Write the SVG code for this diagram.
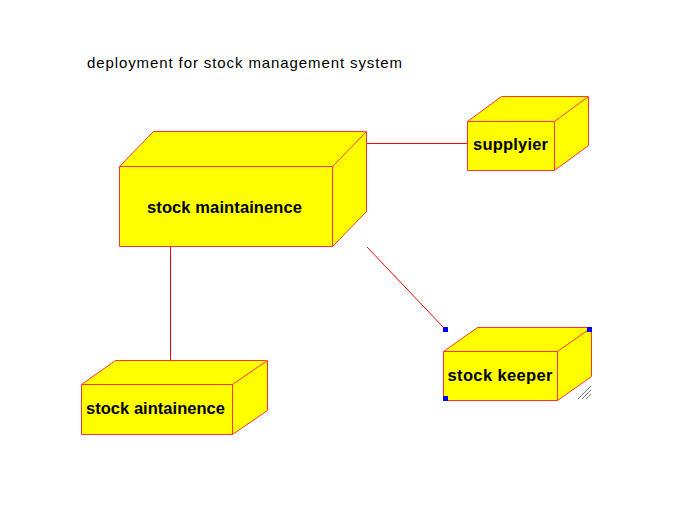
<svg xmlns="http://www.w3.org/2000/svg" width="693" height="516" viewBox="0 0 693 516">
<style>
.box{fill:#ffff00;stroke:#ff3333;stroke-width:1;stroke-linejoin:miter}
.lbl{font-family:"Liberation Sans",Arial,sans-serif;font-weight:bold;font-size:16.5px;fill:#000;text-anchor:middle}
.title{font-family:"Liberation Sans",Arial,sans-serif;font-size:15px;fill:#000}
.conn{stroke:#ff0000;stroke-width:1;fill:none}
.handle{fill:#0000ff}
.hatch{stroke:#808080;stroke-width:1}
</style>
<rect width="693" height="516" fill="#ffffff"/>
<text class="title" x="87" y="68" textLength="315" lengthAdjust="spacing">deployment for stock management system</text>
<g id="connectors">
<line class="conn" x1="367" y1="143.5" x2="468" y2="143.5"/>
<line class="conn" x1="170.5" y1="247" x2="170.5" y2="361"/>
<line class="conn" x1="367" y1="247" x2="444" y2="328"/>
</g>
<g id="node-stock-maintainence">
<path class="box" d="M119.5 166.5 L153.5 131.5 L366.5 131.5 L366.5 211.5 L332.5 246.5 L119.5 246.5 Z"/>
<path class="box" d="M119.5 166.5 L332.5 166.5 L366.5 131.5 M332.5 166.5 L332.5 246.5" fill="none"/>
<text class="lbl" x="224.5" y="213" textLength="155" lengthAdjust="spacing">stock maintainence</text>
</g>
<g id="node-supplyier">
<path class="box" d="M467.5 121.5 L501.5 96.5 L588.5 96.5 L588.5 145.5 L554.5 170.5 L467.5 170.5 Z"/>
<path class="box" d="M467.5 121.5 L554.5 121.5 L588.5 96.5 M554.5 121.5 L554.5 170.5" fill="none"/>
<text class="lbl" x="510.5" y="150" textLength="75" lengthAdjust="spacing">supplyier</text>
</g>
<g id="node-stock-aintainence">
<path class="box" d="M81.5 384.5 L115.5 360.5 L267.5 360.5 L267.5 410.5 L232.5 434.5 L81.5 434.5 Z"/>
<path class="box" d="M81.5 384.5 L232.5 384.5 L267.5 360.5 M232.5 384.5 L232.5 434.5" fill="none"/>
<text class="lbl" x="155.5" y="414" textLength="139" lengthAdjust="spacing">stock aintainence</text>
</g>
<g id="node-stock-keeper">
<path class="box" d="M443.5 351.5 L477.5 327.5 L591.5 327.5 L591.5 376.5 L557.5 400.5 L443.5 400.5 Z"/>
<path class="box" d="M443.5 351.5 L557.5 351.5 L591.5 327.5 M557.5 351.5 L557.5 400.5" fill="none"/>
<text class="lbl" x="500" y="381" textLength="105" lengthAdjust="spacing">stock keeper</text>
<rect class="handle" x="443" y="327" width="5" height="5"/>
<rect class="handle" x="587" y="327" width="5" height="5"/>
<rect class="handle" x="443" y="396" width="5" height="5"/>
<line class="hatch" x1="578" y1="399" x2="591" y2="386"/>
<line class="hatch" x1="582" y1="399" x2="591" y2="390"/>
<line class="hatch" x1="586" y1="399" x2="591" y2="394"/>
</g>
</svg>
